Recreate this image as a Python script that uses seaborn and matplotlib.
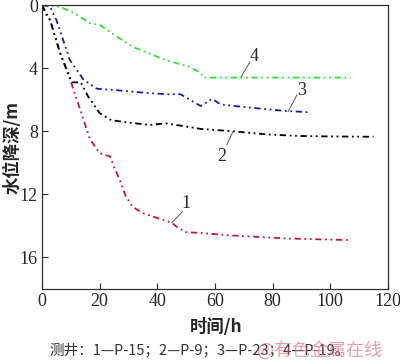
import numpy as np
import pandas as pd
import matplotlib
matplotlib.use("Agg")
import matplotlib.pyplot as plt
import seaborn as sns

# drawdown curves (time in h, drawdown in m)
t1 = [0, 1, 2.8, 6.2, 9.7, 13.2, 16.6, 20, 23.6, 25.3, 27, 29, 31.5, 35, 40, 45, 47, 50, 55, 65, 75, 85, 95, 107]
s1 = [0, 0.5, 0.95, 3.0, 4.7, 6.6, 8.5, 9.4, 9.6, 10.4, 11.1, 12.1, 12.8, 13.2, 13.5, 13.8, 14.1, 14.4, 14.45, 14.6, 14.7, 14.8, 14.85, 14.9]
t2 = [0, 2.8, 6.2, 9.7, 10.3, 13.5, 16, 20, 24, 30, 37.4, 43, 50, 55, 66, 78, 89, 100, 115]
s2 = [0, 0.95, 3.0, 4.6, 4.9, 4.9, 5.8, 6.85, 7.3, 7.45, 7.6, 7.5, 7.7, 7.85, 8.0, 8.2, 8.3, 8.33, 8.35]
t3 = [0, 2.8, 5, 9.7, 14.3, 19, 26, 35, 43, 48, 55, 59, 62, 72, 83.6, 93]
s3 = [0, 0.1, 0.95, 3.5, 4.7, 5.3, 5.4, 5.55, 5.65, 5.65, 6.4, 5.95, 6.3, 6.5, 6.7, 6.8]
t4 = [0, 6.2, 12, 16.6, 20, 26, 31.5, 37, 43, 51, 55, 56, 60, 70, 80, 90, 100, 107]
s4 = [0, 0.1, 0.6, 1.15, 1.25, 2.0, 2.65, 3.05, 3.5, 3.9, 4.3, 4.6, 4.6, 4.6, 4.6, 4.6, 4.6, 4.6]

wells = ["1", "2", "3", "4"]
colors = ["#c01a3a", "#000000", "#1a1aa8", "#33dd33"]

# curve number labels: point on curve, end of leader, text position
lab_curve = [(45.0, 13.8), (66.2, 8.04), (85.3, 6.77), (69.0, 4.56)]
lab_end = [(48.8, 13.08), (64.1, 8.86), (88.4, 5.7), (72.1, 3.61)]
lab_text = [(49.9, 12.6), (62.4, 9.6), (90.2, 5.4), (73.4, 3.25)]

frames = []
for w, t, s in zip(wells, [t1, t2, t3, t4], [s1, s2, s3, s4]):
    frames.append(pd.DataFrame({"time": t, "drawdown": s, "well": w}))
df = pd.concat(frames, ignore_index=True)

sns.set_style("ticks")
plt.rcParams["font.family"] = ["Liberation Serif", "Noto Sans CJK SC"]

fig = plt.figure(figsize=(4.0, 3.63), dpi=100)
ax = fig.add_axes([0.105, 0.204, 0.865, 0.782])

dash = (3.5, 2, 1, 2, 1, 2)
sns.lineplot(data=df, x="time", y="drawdown", hue="well", style="well",
             palette=dict(zip(wells, colors)), dashes={w: dash for w in wells},
             estimator=None, sort=False, linewidth=1.3, legend=False, ax=ax)

ax.set_xlim(0, 120)
ax.set_ylim(18, 0)
ax.set_xticks([0, 20, 40, 60, 80, 100, 120])
ax.set_yticks([0, 4, 8, 12, 16])
ax.tick_params(direction="in", length=4, width=0.8, labelsize=13, pad=3,
               top=False, right=False)
for sp in ax.spines.values():
    sp.set_visible(True)
    sp.set_linewidth(0.9)
    sp.set_color("#333333")

cjk = ["Noto Sans CJK SC", "Liberation Serif"]
ax.set_xlabel("时间/h", fontsize=12.5, fontweight="bold", family=cjk, va="center")
ax.set_ylabel("水位降深/m", fontsize=12.5, fontweight="bold", family=cjk, va="center")
ax.xaxis.set_label_coords(0.503, -0.134)
ax.yaxis.set_label_coords(-0.085, 0.5)

for w, p, q, r in zip(wells, lab_curve, lab_end, lab_text):
    ax.plot([p[0], q[0]], [p[1], q[1]], color="#555555", lw=0.7)
    ax.text(r[0], r[1], w, fontsize=13, ha="center", va="center")

fig.text(0.50, 0.035, "测井：1—P-15；2—P-9；3—P-23；4—P-19。", fontsize=10.5,
         ha="center", va="center", family=cjk, color="#333333")
fig.text(0.80, 0.035, "@有色金属在线", fontsize=13, ha="center", va="center",
         family=["Noto Sans CJK SC"], color="#e06070", alpha=0.6)

fig.savefig("out.png", dpi=100)
